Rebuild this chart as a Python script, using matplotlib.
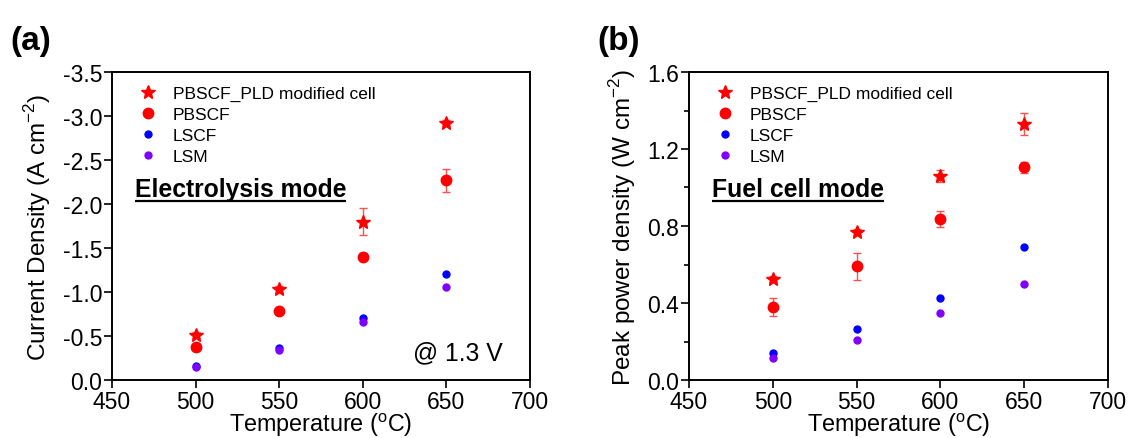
import matplotlib
matplotlib.use("Agg")
import matplotlib.pyplot as plt
from matplotlib.ticker import MultipleLocator

plt.rcParams["font.family"] = ["Liberation Sans", "DejaVu Sans"]
plt.rcParams["mathtext.fontset"] = "custom"
plt.rcParams["mathtext.rm"] = "Liberation Sans"

temps = [500, 550, 600, 650]
labels = ["PBSCF_PLD modified cell", "PBSCF", "LSCF", "LSM"]

# (a) current density at 1.3 V, A cm-2 (negative, electrolysis)
cd_pld = [-0.51, -1.03, -1.80, -2.92]
cd_pld_err = [0.03, 0.04, 0.15, 0.03]
cd_pbscf = [-0.38, -0.78, -1.40, -2.27]
cd_pbscf_err = [0.03, 0.03, 0.04, 0.13]
cd_lscf = [-0.16, -0.36, -0.70, -1.20]
cd_lsm = [-0.15, -0.34, -0.66, -1.06]

# (b) peak power density, W cm-2
pp_pld = [0.525, 0.77, 1.06, 1.33]
pp_pld_err = [0.015, 0.015, 0.03, 0.055]
pp_pbscf = [0.38, 0.59, 0.836, 1.105]
pp_pbscf_err = [0.045, 0.07, 0.04, 0.03]
pp_lscf = [0.14, 0.265, 0.424, 0.69]
pp_lsm = [0.116, 0.208, 0.35, 0.50]

red = "#ff0000"
blue = "#0000ff"
purple = "#8000ff"

fig = plt.figure(figsize=(11.3, 4.39), dpi=100)
ax1 = fig.add_axes([112 / 1130, 1 - 381 / 439, 418 / 1130, 308 / 439])
ax2 = fig.add_axes([689 / 1130, 1 - 381 / 439, 419 / 1130, 308 / 439])


def draw(ax, pld, pld_err, pbscf, pbscf_err, lscf, lsm):
    ax.errorbar(temps, pld, yerr=pld_err, fmt="none", ecolor="#ff5050",
                elinewidth=1, capsize=3, zorder=1)
    ax.errorbar(temps, pbscf, yerr=pbscf_err, fmt="none", ecolor="#ff5050",
                elinewidth=1, capsize=3, zorder=1)
    ax.plot(temps, pld, "*", color=red, markersize=10, label=labels[0], zorder=3)
    ax.plot(temps, pbscf, "o", color=red, markersize=7.5, label=labels[1], zorder=3)
    ax.plot(temps, lscf, "o", color=blue, markersize=5, label=labels[2], zorder=3)
    ax.plot(temps, lsm, "o", color=purple, markersize=5, label=labels[3], zorder=3)
    ax.set_xlim(450, 700)
    ax.xaxis.set_major_locator(MultipleLocator(50))
    ax.tick_params(direction="out", length=6, width=1.2, labelsize=16.5, pad=1)
    ax.tick_params(which="minor", direction="out", length=3.5, width=1.2)
    for s in ax.spines.values():
        s.set_linewidth(1.4)
    ax.set_xlabel("Temperature ($^{\\mathregular{o}}$C)", fontsize=16.8, labelpad=-1.5)
    ax.legend(loc="upper left", frameon=False, fontsize=12.5, handlelength=1.0,
              handletextpad=0.95, labelspacing=0.34, borderaxespad=0,
              bbox_to_anchor=(0.048, 0.977))


def underlined(ax, x, y, s):
    t = ax.text(x, y, s, transform=ax.transAxes, fontsize=17.8, fontweight="bold",
                va="baseline")
    fig.canvas.draw()
    bb = t.get_window_extent().transformed(ax.transAxes.inverted())
    ax.plot([bb.x0, bb.x1], [y - 0.015, y - 0.015], transform=ax.transAxes,
            color="black", lw=1.6, solid_capstyle="butt")


draw(ax1, cd_pld, cd_pld_err, cd_pbscf, cd_pbscf_err, cd_lscf, cd_lsm)
ax1.set_ylim(0, -3.5)
ax1.yaxis.set_major_locator(MultipleLocator(0.5))
ax1.yaxis.set_major_formatter(plt.FuncFormatter(lambda v, p: "%.1f" % v if abs(v) > 1e-9 else "0.0"))
ax1.set_ylabel("Current Density (A cm$^{\\mathregular{-2}}$)", fontsize=17.5, labelpad=7)
underlined(ax1, 0.055, 0.597, "Electrolysis mode")
ax1.text(0.935, 0.068, "@ 1.3 V", transform=ax1.transAxes, fontsize=17.8,
         ha="right", va="baseline")

draw(ax2, pp_pld, pp_pld_err, pp_pbscf, pp_pbscf_err, pp_lscf, pp_lsm)
ax2.set_ylim(0, 1.6)
ax2.yaxis.set_major_locator(MultipleLocator(0.4))
ax2.yaxis.set_minor_locator(MultipleLocator(0.2))
ax2.set_ylabel("Peak power density (W cm$^{\\mathregular{-2}}$)", fontsize=17.5, labelpad=7)
underlined(ax2, 0.055, 0.597, "Fuel cell mode")

fig.text(10 / 1130, 1 - 50 / 439, "(a)", fontsize=24, fontweight="bold")
fig.text(597 / 1130, 1 - 50 / 439, "(b)", fontsize=24, fontweight="bold")

fig.savefig("out.png", dpi=100)
